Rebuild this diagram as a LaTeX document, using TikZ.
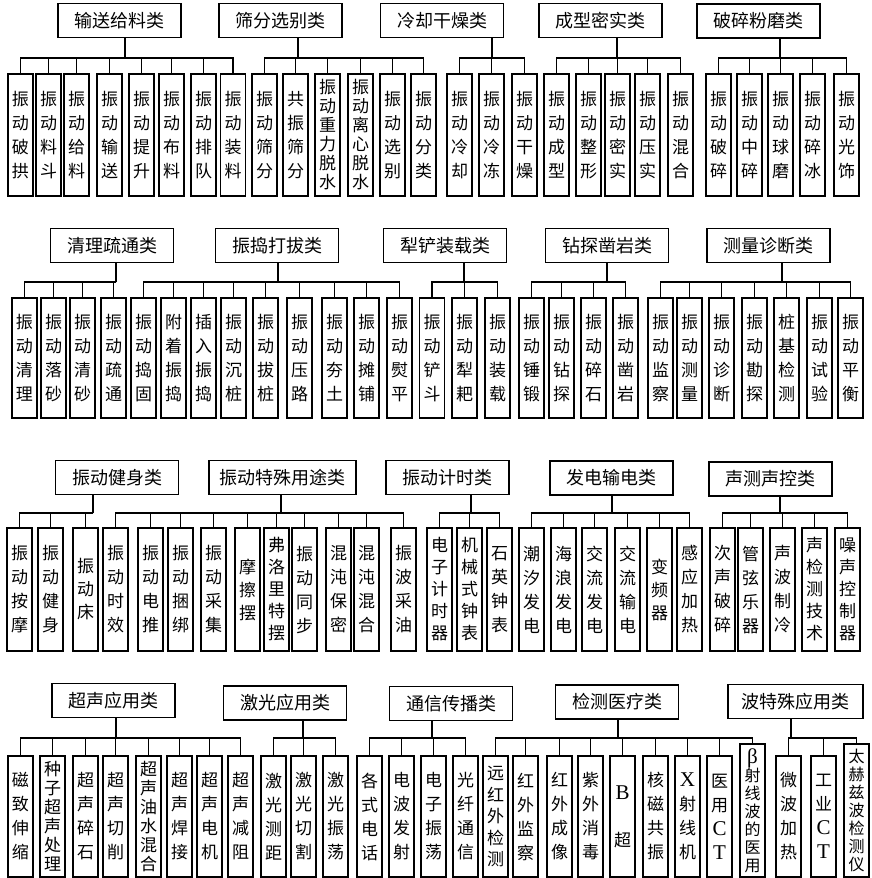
\documentclass[tikz,border=0pt]{standalone}
\usepackage{fontspec}
\setmainfont{Liberation Serif}
\newfontfamily\cjk{Noto Sans CJK SC}
\newcommand\lat[1]{{\rmfamily\fontsize{21}{24}\selectfont #1}}
\tikzset{
  head/.style={draw, line width=1.3pt, minimum width=123pt, minimum height=34pt, inner sep=0pt, font=\cjk\fontsize{18}{20}\selectfont},
  leaf/.style={draw, line width=1.3pt, minimum width=25pt, inner sep=0pt, align=center, font=\cjk\fontsize{17}{#1}\selectfont},
  leaf/.default=24,
  link/.style={line width=1.2pt},
}
\begin{document}
\begin{tikzpicture}[x=1pt, y=-1pt]
\useasboundingbox (0,0) rectangle (871,878);

% ---- row 1
\node[head] (h1) at (119.5,20.5) {输送给料类};
\coordinate (b1) at (125,58);
\draw[link] (h1.south -| b1) -- (b1);
\foreach \x/\p/\txt [count=\i] in {20.5/24/振\\动\\破\\拱, 48.5/24/振\\动\\料\\斗, 76.5/24/振\\动\\给\\料, 109.5/24/振\\动\\输\\送, 141.5/24/振\\动\\提\\升, 171.5/24/振\\动\\布\\料, 203.5/24/振\\动\\排\\队, 233/24/振\\动\\装\\料}{
  \node[leaf=\p, minimum height=122pt] (g1-\i) at (\x,135) {\txt};
  \draw[link] (b1) -| (g1-\i.north);
}

\node[head] (h2) at (280.5,20.5) {筛分选别类};
\coordinate (b2) at (298,58);
\draw[link] (h2.south -| b2) -- (b2);
\foreach \x/\p/\txt [count=\i] in {264.5/24/振\\动\\筛\\分, 295.5/24/共\\振\\筛\\分, 327.5/19/振\\动\\重\\力\\脱\\水, 360.5/19/振\\动\\离\\心\\脱\\水, 392.5/24/振\\动\\选\\别, 423.5/24/振\\动\\分\\类}{
  \node[leaf=\p, minimum height=122pt] (g2-\i) at (\x,135) {\txt};
  \draw[link] (b2) -| (g2-\i.north);
}

\node[head] (h3) at (442,20.5) {冷却干燥类};
\coordinate (b3) at (492,58);
\draw[link] (h3.south -| b3) -- (b3);
\foreach \x/\p/\txt [count=\i] in {459.5/24/振\\动\\冷\\却, 491.5/24/振\\动\\冷\\冻, 524.5/24/振\\动\\干\\燥}{
  \node[leaf=\p, minimum height=122pt] (g3-\i) at (\x,135) {\txt};
  \draw[link] (b3) -| (g3-\i.north);
}

\node[head] (h4) at (600.5,20.5) {成型密实类};
\coordinate (b4) at (617,58);
\draw[link] (h4.south -| b4) -- (b4);
\foreach \x/\p/\txt [count=\i] in {556.5/24/振\\动\\成\\型, 588.5/24/振\\动\\整\\形, 617.5/24/振\\动\\密\\实, 647.5/24/振\\动\\压\\实, 680.5/24/振\\动\\混\\合}{
  \node[leaf=\p, minimum height=122pt] (g4-\i) at (\x,135) {\txt};
  \draw[link] (b4) -| (g4-\i.north);
}

\node[head] (h5) at (758.5,21) {破碎粉磨类};
\coordinate (b5) at (780,58);
\draw[link] (h5.south -| b5) -- (b5);
\foreach \x/\p/\txt [count=\i] in {718.5/24/振\\动\\破\\碎, 749.5/24/振\\动\\中\\碎, 780.5/24/振\\动\\球\\磨, 812.5/24/振\\动\\碎\\冰, 846.5/24/振\\动\\光\\饰}{
  \node[leaf=\p, minimum height=122pt] (g5-\i) at (\x,135) {\txt};
  \draw[link] (b5) -| (g5-\i.north);
}

% ---- row 2
\node[head] (h6) at (112,245.5) {清理疏通类};
\coordinate (b6) at (116,282);
\draw[link] (h6.south -| b6) -- (b6);
\foreach \x/\p/\txt [count=\i] in {24.5/24/振\\动\\清\\理, 53.5/24/振\\动\\落\\砂, 82.5/24/振\\动\\清\\砂, 113.5/24/振\\动\\疏\\通}{
  \node[leaf=\p, minimum height=120pt] (g6-\i) at (\x,358) {\txt};
  \draw[link] (b6) -| (g6-\i.north);
}

\node[head] (h7) at (277,245.5) {振捣打拔类};
\coordinate (b7) at (278,282);
\draw[link] (h7.south -| b7) -- (b7);
\foreach \x/\p/\txt [count=\i] in {143.5/24/振\\动\\捣\\固, 173.5/24/附\\着\\振\\捣, 203.5/24/插\\入\\振\\捣, 233.5/24/振\\动\\沉\\桩, 265.5/24/振\\动\\拔\\桩, 299.5/24/振\\动\\压\\路, 334.5/24/振\\动\\夯\\土, 366.5/24/振\\动\\摊\\铺, 399.5/24/振\\动\\熨\\平}{
  \node[leaf=\p, minimum height=120pt] (g7-\i) at (\x,358) {\txt};
  \draw[link] (b7) -| (g7-\i.north);
}

\node[head] (h8) at (445,245.5) {犁铲装载类};
\coordinate (b8) at (464,282);
\draw[link] (h8.south -| b8) -- (b8);
\foreach \x/\p/\txt [count=\i] in {432/24/振\\动\\铲\\斗, 464.5/24/振\\动\\犁\\耙, 497.5/24/振\\动\\装\\载}{
  \node[leaf=\p, minimum height=120pt] (g8-\i) at (\x,358) {\txt};
  \draw[link] (b8) -| (g8-\i.north);
}

\node[head] (h9) at (607,245.5) {钻探凿岩类};
\coordinate (b9) at (607,282);
\draw[link] (h9.south -| b9) -- (b9);
\foreach \x/\p/\txt [count=\i] in {531.5/24/振\\动\\锤\\锻, 561.5/24/振\\动\\钻\\探, 593.5/24/振\\动\\碎\\石, 625.5/24/振\\动\\凿\\岩}{
  \node[leaf=\p, minimum height=120pt] (g9-\i) at (\x,358) {\txt};
  \draw[link] (b9) -| (g9-\i.north);
}

\node[head] (h10) at (768.5,245.5) {测量诊断类};
\coordinate (b10) at (782,282);
\draw[link] (h10.south -| b10) -- (b10);
\foreach \x/\p/\txt [count=\i] in {660.5/24/振\\动\\监\\察, 689.5/24/振\\动\\测\\量, 721.5/24/振\\动\\诊\\断, 754.5/24/振\\动\\勘\\探, 786.5/24/桩\\基\\检\\测, 819.5/24/振\\动\\试\\验, 850.5/24/振\\动\\平\\衡}{
  \node[leaf=\p, minimum height=120pt] (g10-\i) at (\x,358) {\txt};
  \draw[link] (b10) -| (g10-\i.north);
}

% ---- row 3
\node[head] (h11) at (117,477.5) {振动健身类};
\coordinate (b11) at (93,513);
\draw[link] (h11.south -| b11) -- (b11);
\foreach \x/\p/\txt [count=\i] in {19.5/24/振\\动\\按\\摩, 50.5/24/振\\动\\健\\身, 85.5/23/振\\动\\床}{
  \node[leaf=\p, minimum height=123pt] (g11-\i) at (\x,589.5) {\txt};
  \draw[link] (b11) -| (g11-\i.north);
}

\node[head, minimum width=147pt] (h12) at (282.5,477.5) {振动特殊用途类};
\coordinate (b12) at (281,513);
\draw[link] (h12.south -| b12) -- (b12);
\foreach \x/\p/\txt [count=\i] in {115.5/24/振\\动\\时\\效, 150.5/24/振\\动\\电\\推, 180.5/24/振\\动\\捆\\绑, 213.5/24/振\\动\\采\\集, 247.5/23/摩\\擦\\摆, 276.5/22/弗\\洛\\里\\特\\摆, 304.5/24/振\\动\\同\\步, 338.5/24/混\\沌\\保\\密, 366.5/24/混\\沌\\混\\合, 403.5/24/振\\波\\采\\油}{
  \node[leaf=\p, minimum height=123pt] (g12-\i) at (\x,589.5) {\txt};
  \draw[link] (b12) -| (g12-\i.north);
}

\node[head] (h13) at (447.5,477.5) {振动计时类};
\coordinate (b13) at (471,513);
\draw[link] (h13.south -| b13) -- (b13);
\foreach \x/\p/\txt [count=\i] in {439.5/22/电\\子\\计\\时\\器, 469.5/22/机\\械\\式\\钟\\表, 499.5/24/石\\英\\钟\\表}{
  \node[leaf=\p, minimum height=123pt] (g13-\i) at (\x,589.5) {\txt};
  \draw[link] (b13) -| (g13-\i.north);
}

\node[head] (h14) at (611.5,478) {发电输电类};
\coordinate (b14) at (612,513);
\draw[link] (h14.south -| b14) -- (b14);
\foreach \x/\p/\txt [count=\i] in {531.5/24/潮\\汐\\发\\电, 563.5/24/海\\浪\\发\\电, 594.5/24/交\\流\\发\\电, 627.5/24/交\\流\\输\\电, 659.5/23/变\\频\\器, 689.5/24/感\\应\\加\\热}{
  \node[leaf=\p, minimum height=123pt] (g14-\i) at (\x,589.5) {\txt};
  \draw[link] (b14) -| (g14-\i.north);
}

\node[head] (h15) at (770.5,479) {声测声控类};
\coordinate (b15) at (780,513);
\draw[link] (h15.south -| b15) -- (b15);
\foreach \x/\p/\txt [count=\i] in {722.5/24/次\\声\\破\\碎, 750.5/24/管\\弦\\乐\\器, 782.5/24/声\\波\\制\\冷, 814.5/22/声\\检\\测\\技\\术, 847.5/22/噪\\声\\控\\制\\器}{
  \node[leaf=\p, minimum height=123pt] (g15-\i) at (\x,589.5) {\txt};
  \draw[link] (b15) -| (g15-\i.north);
}

% ---- row 4
\node[head] (h16) at (113.5,700.5) {超声应用类};
\coordinate (b16) at (116,738);
\draw[link] (h16.south -| b16) -- (b16);
\foreach \x/\p/\txt [count=\i] in {20.5/24/磁\\致\\伸\\缩, 52.5/19/种\\子\\超\\声\\处\\理, 85.5/24/超\\声\\碎\\石, 115.5/24/超\\声\\切\\削, 148.5/19/超\\声\\油\\水\\混\\合, 179.5/24/超\\声\\焊\\接, 209.5/24/超\\声\\电\\机, 240.5/24/超\\声\\减\\阻}{
  \node[leaf=\p, minimum height=121pt] (g16-\i) at (\x,816.5) {\txt};
  \draw[link] (b16) -| (g16-\i.north);
}

\node[head] (h17) at (285,703) {激光应用类};
\coordinate (b17) at (303,738);
\draw[link] (h17.south -| b17) -- (b17);
\foreach \x/\p/\txt [count=\i] in {273.5/24/激\\光\\测\\距, 303.5/24/激\\光\\切\\割, 335.5/24/激\\光\\振\\荡}{
  \node[leaf=\p, minimum height=121pt] (g17-\i) at (\x,816.5) {\txt};
  \draw[link] (b17) -| (g17-\i.north);
}

\node[head] (h18) at (451,703.5) {通信传播类};
\coordinate (b18) at (432,738);
\draw[link] (h18.south -| b18) -- (b18);
\foreach \x/\p/\txt [count=\i] in {369.5/24/各\\式\\电\\话, 401.5/24/电\\波\\发\\射, 433.5/24/电\\子\\振\\荡, 465.5/24/光\\纤\\通\\信}{
  \node[leaf=\p, minimum height=121pt] (g18-\i) at (\x,816.5) {\txt};
  \draw[link] (b18) -| (g18-\i.north);
}

\node[head] (h19) at (617,702) {检测医疗类};
\coordinate (b19) at (618,738);
\draw[link] (h19.south -| b19) -- (b19);
\foreach \x/\p/\txt [count=\i] in {495.5/21.5/远\\红\\外\\检\\测, 525.5/24/红\\外\\监\\察, 559.5/24/红\\外\\成\\像, 590.5/24/紫\\外\\消\\毒, 622.5/47/\lat{B}\\超, 655.5/24/核\\磁\\共\\振, 687.5/24/\lat{X}\\射\\线\\机, 719.5/24/医\\用\\\lat{C}\\\lat{T}}{
  \node[leaf=\p, minimum height=121pt] (g19-\i) at (\x,816.5) {\txt};
  \draw[link] (b19) -| (g19-\i.north);
}
\node[leaf=18, minimum height=133pt, font=\cjk\fontsize{16}{18}\selectfont] (g19-9) at (752.5,810.5) {\lat{β}\\射\\线\\波\\的\\医\\用};
\draw[link] (b19) -| (g19-9.north);

\node[head, minimum width=135pt] (h20) at (795.5,701.5) {波特殊应用类};
\coordinate (b20) at (791,738);
\draw[link] (h20.south -| b20) -- (b20);
\foreach \x/\p/\txt [count=\i] in {788.5/24/微\\波\\加\\热, 823.5/24/工\\业\\\lat{C}\\\lat{T}}{
  \node[leaf=\p, minimum height=121pt] (g20-\i) at (\x,816.5) {\txt};
  \draw[link] (b20) -| (g20-\i.north);
}
\node[leaf=18, minimum height=133pt, font=\cjk\fontsize{16}{18}\selectfont] (g20-3) at (856.5,810.5) {太\\赫\\兹\\波\\检\\测\\仪};
\draw[link] (b20) -| (g20-3.north);
\end{tikzpicture}
\end{document}
